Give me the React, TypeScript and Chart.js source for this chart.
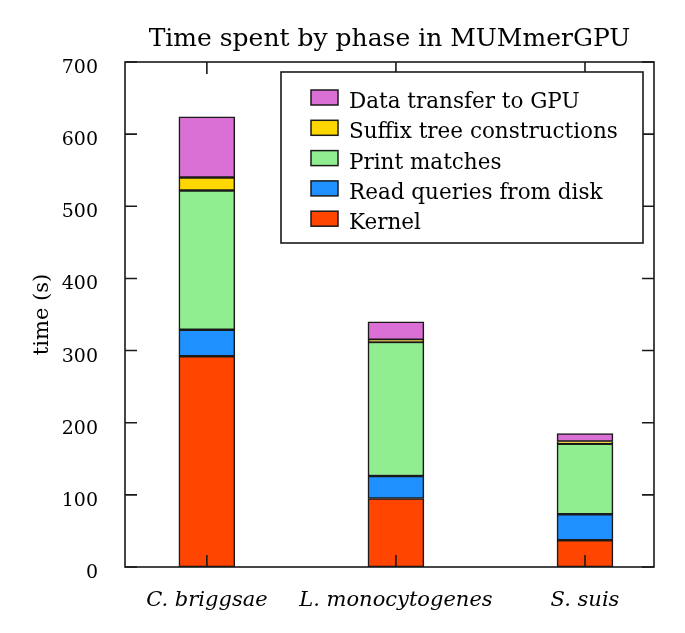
import { useEffect, useRef } from 'react';
import { Chart, registerables } from 'chart.js';

Chart.register(...registerables);

const categories = ['C. briggsae', 'L. monocytogenes', 'S. suis'];
const seriesNames = ['Kernel', 'Read queries from disk', 'Print matches', 'Suffix tree constructions', 'Data transfer to GPU'];
const kernel = [292, 95, 37];
const readQueries = [37, 31, 36];
const printMatches = [193, 186, 98];
const suffixTree = [18, 3, 3];
const dataTransfer = [84, 25, 11];
const seriesColors = ['#FF4500', '#1E90FF', '#90EE90', '#FFD700', '#DA70D6'];
const yTickValues = [0, 100, 200, 300, 400, 500, 600, 700];
const titleText = 'Time spent by phase in MUMmerGPU';
const yAxisTitle = 'time (s)';

const FONT = "'DejaVu Serif', serif";

const frameAndTicks = {
  id: 'frameAndTicks',
  afterDatasetsDraw(chart: any) {
    const { ctx, chartArea: a, scales } = chart;
    const xs = scales.x;
    const ys = scales.y;
    const L = 12;
    ctx.save();
    ctx.strokeStyle = '#1a1a1a';
    ctx.lineWidth = 1.6;
    ctx.beginPath();
    ys.ticks.forEach((t: any) => {
      const py = ys.getPixelForValue(t.value);
      ctx.moveTo(a.left, py);
      ctx.lineTo(a.left + L, py);
      ctx.moveTo(a.right, py);
      ctx.lineTo(a.right - L, py);
    });
    xs.ticks.forEach((t: any) => {
      const px = xs.getPixelForValue(t.value);
      ctx.moveTo(px, a.bottom);
      ctx.lineTo(px, a.bottom - L);
      ctx.moveTo(px, a.top);
      ctx.lineTo(px, a.top + L);
    });
    ctx.stroke();
    ctx.strokeRect(a.left, a.top, a.right - a.left, a.bottom - a.top);
    ctx.restore();
  },
};

const insideLegend = {
  id: 'insideLegend',
  afterDatasetsDraw(chart: any) {
    const { ctx, chartArea: a } = chart;
    const w = 362;
    const h = 171;
    const bx = a.right - 11 - w;
    const by = a.top + 10;
    ctx.save();
    ctx.fillStyle = '#ffffff';
    ctx.fillRect(bx, by, w, h);
    ctx.strokeStyle = '#1a1a1a';
    ctx.lineWidth = 1.6;
    ctx.strokeRect(bx, by, w, h);
    const items = [...chart.data.datasets].reverse();
    ctx.font = `21.5px ${FONT}`;
    ctx.textBaseline = 'alphabetic';
    ctx.textAlign = 'left';
    items.forEach((ds: any, i: number) => {
      const sy = by + 18 + i * 30.3;
      const sx = bx + 30;
      ctx.fillStyle = ds.backgroundColor;
      ctx.fillRect(sx, sy, 27, 15);
      ctx.strokeStyle = '#1a1a1a';
      ctx.lineWidth = 1.5;
      ctx.strokeRect(sx, sy, 27, 15);
      ctx.fillStyle = '#000';
      ctx.fillText(ds.label, bx + 68, sy + 18);
    });
    ctx.restore();
  },
};

export default function App() {
  const ref = useRef<HTMLCanvasElement | null>(null);

  useEffect(() => {
    if (!ref.current) return;
    Chart.defaults.font.family = FONT;
    Chart.defaults.color = '#000';
    const series = [kernel, readQueries, printMatches, suffixTree, dataTransfer];
    const chart = new Chart(ref.current, {
      type: 'bar',
      data: {
        datasets: series.map((vals, si) => ({
          label: seriesNames[si],
          data: vals.map((v, i) => ({ x: i, y: v })),
          backgroundColor: seriesColors[si],
          borderColor: '#1a1a1a',
          borderWidth: 1.6,
          borderSkipped: false,
          barThickness: 56,
        })),
      },
      options: {
        animation: false,
        responsive: true,
        maintainAspectRatio: false,
        layout: { padding: { top: 0, right: 31, bottom: 0, left: 0 } },
        plugins: {
          legend: { display: false },
          tooltip: { enabled: false },
          title: {
            display: true,
            text: titleText,
            fullSize: false,
            color: '#000',
            font: { family: FONT, size: 25, weight: 'normal', lineHeight: 1.2 },
            padding: { top: 24, bottom: 8 },
          },
        },
        scales: {
          x: {
            type: 'linear',
            stacked: true,
            offset: false,
            min: -0.433,
            max: 2.365,
            grid: { display: false, offset: false },
            border: { display: false },
            afterBuildTicks: (scale: any) => {
              scale.ticks = categories.map((_, i) => ({ value: i }));
            },
            afterFit: (scale: any) => {
              scale.height = 66;
            },
            ticks: {
              padding: 13,
              autoSkip: false,
              maxRotation: 0,
              font: { family: FONT, size: 21, style: 'italic', lineHeight: 1.2 },
              callback: (v: any) => categories[v] ?? '',
            },
          },
          y: {
            type: 'linear',
            stacked: true,
            min: 0,
            max: 700,
            grid: { display: false },
            border: { display: false },
            afterBuildTicks: (scale: any) => {
              scale.ticks = yTickValues.map((v) => ({ value: v }));
            },
            afterFit: (scale: any) => {
              scale.width = 125;
            },
            ticks: {
              padding: 19,
              labelOffset: 6,
              font: { family: FONT, size: 19 },
            },
            title: {
              display: true,
              text: yAxisTitle,
              color: '#000',
              font: { family: FONT, size: 21, lineHeight: 1.2 },
              padding: { top: 30, bottom: 0 },
            },
          },
        },
      },
      plugins: [frameAndTicks, insideLegend],
    } as any);
    return () => chart.destroy();
  }, []);

  return (
    <div style={{ position: 'fixed', left: 0, top: 0, width: 685, height: 633, background: '#fff' }}>
      <canvas ref={ref} />
    </div>
  );
}
